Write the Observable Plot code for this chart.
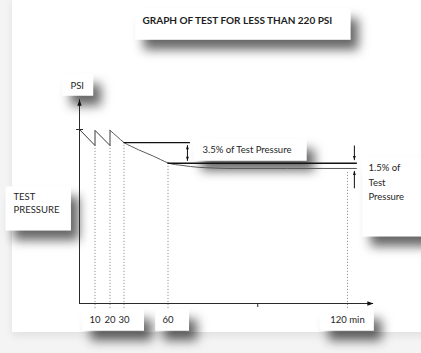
<!DOCTYPE html>
<html><head><meta charset="utf-8">
<script src="https://cdn.jsdelivr.net/npm/d3@7"></script>
<script src="https://cdn.jsdelivr.net/npm/@observablehq/plot@0.6"></script>
<style>
html,body{margin:0;padding:0;background:#f5f5f5;}
#wrap{position:relative;width:421px;height:353px;overflow:hidden;background:#f4f4f4;}
#card{position:absolute;left:12px;top:-4px;width:420px;height:336px;background:#fff;box-shadow:0 4px 8px rgba(0,0,0,0.08);}
#chart{position:absolute;left:0;top:0;}
</style></head><body>
<div id="wrap"><div id="card"></div><div id="chart"></div></div>
<script>
// ---- data (schematic pressure vs time) ----
const teethTime = [0, 10, 10, 20, 20];
const teethPsi  = [100, 90.8, 99.5, 90.8, 99.5];
const decayTime = [20, 25, 30, 35, 40, 45, 50, 55, 60, 65, 70, 75, 80, 100, 123];
const decayPsi  = [99.5, 96, 92.5, 90.3, 88.3, 86.5, 84.7, 82.7, 80.8, 79.3, 78.3, 77.9, 77.6, 77.6, 77.6];
const tickTimes  = [10, 20, 30, 60, 120];
const tickLabels = ["10", "20", "30", "60", "120 min"];
const dropTopPsi = [90.8, 90.8, 92.5, 80.6, 76.4];   // where dotted guides start
const refStart = [30, 60];
const refEnd   = [67.5, 123.3];
const refPsi   = [92.5, 80.6];
const arrowTime = [66.5, 66.5, 122.3, 122.3];
const arrowFrom = [86.5, 86.5, 90.8, 66.2];
const arrowTo   = [91.0, 82.0, 82.4, 76.2];
const testPsi = 100;
const minorTick = 90;
const timeAxisEnd = 128.7;
const psiAxisEnd = 117.2;
// schematic (non-uniform) spacing of the time axis
const timeBreaks = [0, 10, 20, 30, 60, 120];
const timeSpacing = [0, 15.5, 30.5, 44.5, 88.5, 268];
const titleText = "GRAPH OF TEST FOR LESS THAN 220 PSI";
const psiLabel = "PSI";
const testPressureLabel = "TEST\nPRESSURE";
const note35 = "3.5% of Test Pressure";
const note15 = "1.5% of\nTest\nPressure";

// ---- tables ----
const teeth = teethTime.map((t, i) => ({t, p: teethPsi[i]}));
const decay = decayTime.map((t, i) => ({t, p: decayPsi[i]}));
const ticks = tickTimes.map((t, i) => ({t, label: tickLabels[i], top: dropTopPsi[i]}));
const refs = refStart.map((s, i) => ({s, e: refEnd[i], p: refPsi[i]}));
const arrows = arrowTime.map((t, i) => ({t, a: arrowFrom[i], b: arrowTo[i]}));
const timeWarp = d3.scaleLinear().domain(timeBreaks).range(timeSpacing);

// arrow-head symbols with the tip at the anchor point
const hw = 0.9, hl = 2.6;
const headUp = {draw(c, s){const r=Math.sqrt(s/Math.PI); c.moveTo(0,0); c.lineTo(-hw*r, hl*r); c.lineTo(hw*r, hl*r); c.closePath();}};
const headDown = {draw(c, s){const r=Math.sqrt(s/Math.PI); c.moveTo(0,0); c.lineTo(-hw*r, -hl*r); c.lineTo(hw*r, -hl*r); c.closePath();}};
const headRight = {draw(c, s){const r=Math.sqrt(s/Math.PI); c.moveTo(0,0); c.lineTo(-hl*r, -hw*r); c.lineTo(-hl*r, hw*r); c.closePath();}};

const font = "Lato, 'Open Sans', sans-serif";
const ink = "#2a2a2a";
const txt = "#262626";

const svg = Plot.plot({
  width: 421, height: 353,
  marginTop: 0, marginRight: 0, marginBottom: 0, marginLeft: 0,
  style: {background: "transparent", fontFamily: font, overflow: "visible"},
  x: {transform: t => timeWarp(t), domain: [0, 342], range: [79, 421], axis: null},
  y: {domain: [0, 100], range: [303, 129], axis: null},
  marks: [
    // dotted guides
    Plot.ruleX(ticks, {x: "t", y1: -2.9, y2: "top", stroke: "#7a7a7a", strokeWidth: 0.8, strokeDasharray: "1.2,1.8"}),
    // axes
    Plot.ruleX([0], {y1: 0, y2: psiAxisEnd, stroke: ink, strokeWidth: 1}),
    Plot.ruleY([0], {x1: 0, x2: timeAxisEnd, stroke: ink, strokeWidth: 1}),
    Plot.dot([{t: 0, p: psiAxisEnd}], {x: "t", y: "p", symbol: headUp, r: 2.4, fill: "#111", stroke: "none"}),
    Plot.dot([{t: timeAxisEnd, p: 0}], {x: "t", y: "p", symbol: headRight, r: 2.4, fill: "#111", stroke: "none"}),
    Plot.ruleY([testPsi], {x1: -1.9, x2: 2.6, stroke: ink, strokeWidth: 1}),
    Plot.ruleX([minorTick], {y1: 0, y2: -2.3, stroke: ink, strokeWidth: 1}),
    // pressure trace
    Plot.line(teeth, {x: "t", y: "p", stroke: "#3a3a3a", strokeWidth: 1}),
    Plot.line(decay, {x: "t", y: "p", stroke: "#5a5a5a", strokeWidth: 1, curve: "monotone-x"}),
    // reference levels
    Plot.ruleY(refs, {y: "p", x1: "s", x2: "e", stroke: "#111", strokeWidth: 1.3}),
    // tolerance arrows
    Plot.link(arrows, {x1: "t", x2: "t", y1: "a", y2: "b", stroke: "#111", strokeWidth: 1}),
    Plot.dot(arrows.filter(d => d.b > d.a), {x: "t", y: "b", symbol: headUp, r: 1.6, fill: "#111", stroke: "none"}),
    Plot.dot(arrows.filter(d => d.b < d.a), {x: "t", y: "b", symbol: headDown, r: 1.6, fill: "#111", stroke: "none"}),
    // texts
    Plot.text([titleText], {frameAnchor: "top-left", dx: 142, dy: 16, fontSize: 10, fontWeight: "bold", fill: "#1e1e1e", ariaDescription: "title-box"}),
    Plot.text([psiLabel], {x: 0, y: 125.3, dx: -9, textAnchor: "start", fontSize: 9.5, fill: txt, ariaDescription: "psi-box"}),
    Plot.text([testPressureLabel], {frameAnchor: "top-left", dx: 13, dy: 190, lineHeight: 1.4, fontSize: 9.5, fill: txt, ariaDescription: "tp-box"}),
    Plot.text([note35], {x: 71.5, y: 88.5, textAnchor: "start", fontSize: 9.5, fill: txt, ariaDescription: "n35-box"}),
    Plot.text([note15], {x: 127, y: 82.0, textAnchor: "start", lineAnchor: "top", lineHeight: 1.53, fontSize: 9.5, fill: txt, ariaDescription: "n15-box"}),
    Plot.text(ticks, {x: "t", y: -9.2, text: "label", textAnchor: "middle", fontSize: 9.5, fill: txt, ariaDescription: "tick-box"})
  ]
});
document.getElementById("chart").append(svg);

// ---- shadowed white boxes behind the labels ----
const sr = svg.getBoundingClientRect();
const boxes = [
  {label: "title-box", pad: [5, 18, 14, 7]},
  {label: "psi-box", pad: [5.5, 9, 5, 8]},
  {label: "tp-box", pad: [4.5, 11, 15, 8]},
  {label: "n35-box", pad: [4.5, 15, 6, 9]},
  {label: "n15-box", pad: [4.5, 30, 34, 6]},
  {label: "tick-box", idx: [0, 1, 2], pad: [4.5, 14, 6, 7]},
  {label: "tick-box", idx: [3], pad: [4.5, 15, 6, 7]},
  {label: "tick-box", idx: [4], pad: [4.5, 9, 6, 10]}
];
const ns = "http://www.w3.org/2000/svg";
const defs = document.createElementNS(ns, "defs");
defs.innerHTML = '<filter id="sh" x="-30%" y="-40%" width="170%" height="240%"><feDropShadow dx="8" dy="10" stdDeviation="5.5" flood-color="#000" flood-opacity="0.6"/></filter>';
const bg = document.createElementNS(ns, "g");
bg.setAttribute("filter", "url(#sh)");
for (const b of boxes) {
  const g = svg.querySelector(`[aria-description="${b.label}"]`);
  if (!g) continue;
  let els = Array.from(g.querySelectorAll("text"));
  if (b.idx) els = b.idx.map(i => els[i]).filter(Boolean);
  if (!els.length) continue;
  let x0 = Infinity, y0 = Infinity, x1 = -Infinity, y1 = -Infinity;
  for (const el of els) {
    const r = el.getBoundingClientRect();
    x0 = Math.min(x0, r.left - sr.left); y0 = Math.min(y0, r.top - sr.top);
    x1 = Math.max(x1, r.right - sr.left); y1 = Math.max(y1, r.bottom - sr.top);
  }
  const [pt, pr, pb, pl] = b.pad;
  const rect = document.createElementNS(ns, "rect");
  rect.setAttribute("x", x0 - pl); rect.setAttribute("y", y0 - pt);
  rect.setAttribute("width", x1 - x0 + pl + pr); rect.setAttribute("height", y1 - y0 + pt + pb);
  rect.setAttribute("fill", "#fff");
  bg.append(rect);
}
const firstG = svg.querySelector("g");
svg.insertBefore(defs, firstG);
svg.insertBefore(bg, firstG);
</script>
</body></html>
